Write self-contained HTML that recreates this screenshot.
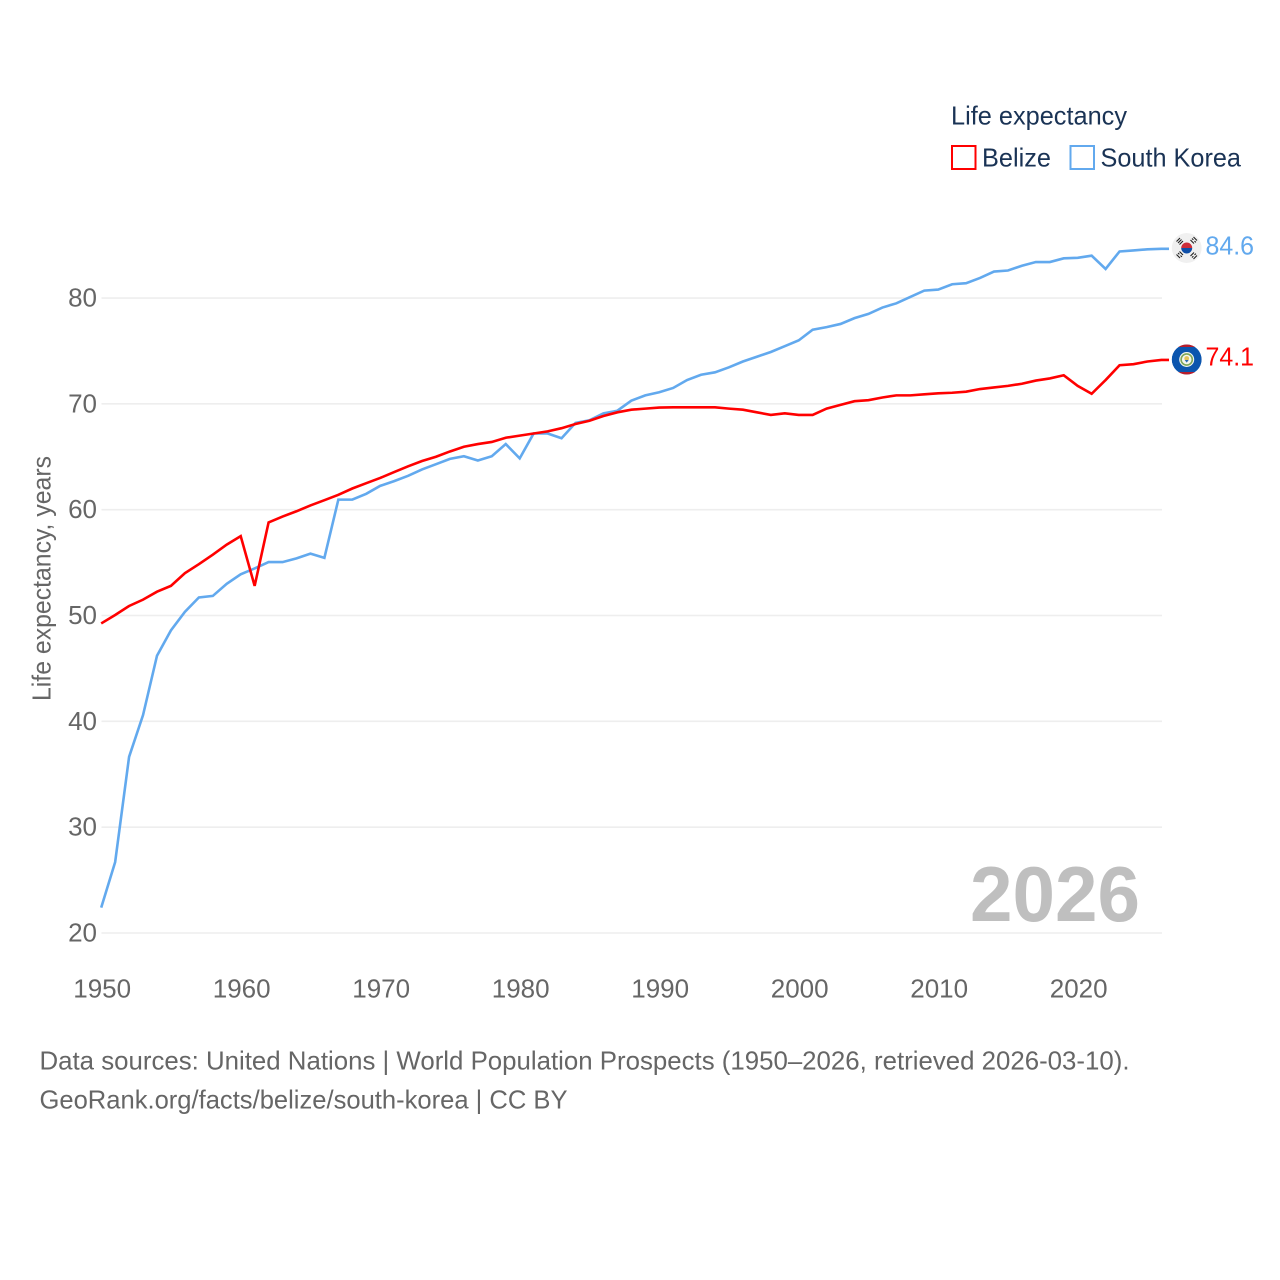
<!DOCTYPE html>
<html lang="en">
<head>
<meta charset="utf-8">
<title>Life expectancy: Belize vs South Korea</title>
<style>
html,body{margin:0;padding:0;background:#fff;width:1280px;height:1280px;overflow:hidden}
svg{display:block}
text{font-family:"Liberation Sans",sans-serif;font-size:26px}
</style>
</head>
<body>
<svg id="chart" xmlns="http://www.w3.org/2000/svg" width="1280" height="1280" viewBox="0 0 1280 1280">
  <defs>
    <clipPath id="flag-clip-kr"><circle cx="1186.7" cy="248" r="15"/></clipPath>
    <clipPath id="flag-clip-bz"><circle cx="1186.7" cy="359.5" r="15"/></clipPath>
  </defs>
  <g id="grid"></g>
  <g id="ytick-labels"></g>
  <g id="xtick-labels"></g>
  <text x="970" y="921" textLength="170" lengthAdjust="spacingAndGlyphs" style="font-size:78px;font-weight:bold" fill="#bfbfbf">2026</text>
  <g id="series"></g>

  <text transform="translate(50.5,701) rotate(-90)" textLength="245" lengthAdjust="spacingAndGlyphs" fill="#666666">Life expectancy, years</text>

  <g>
    <text x="951" y="124.5" textLength="176" lengthAdjust="spacingAndGlyphs" fill="#1a3355">Life expectancy</text>
    <rect x="952" y="146" width="23.5" height="23" fill="#fff" stroke="#ff0000" stroke-width="2"/>
    <text x="982" y="166.5" textLength="69" lengthAdjust="spacingAndGlyphs" fill="#1a3355">Belize</text>
    <rect x="1070.5" y="146" width="23.5" height="23" fill="#fff" stroke="#62a9ee" stroke-width="2"/>
    <text x="1100.5" y="166.5" textLength="140.5" lengthAdjust="spacingAndGlyphs" fill="#1a3355">South Korea</text>
  </g>

  <g clip-path="url(#flag-clip-kr)">
    <circle cx="1186.7" cy="248" r="15" fill="#f0f0f0"/>
    <path d="M1181.2 248a5.5 5.5 0 0 1 11 0z" fill="#cd2e3a"/>
    <path d="M1181.2 248a5.5 5.5 0 0 0 11 0z" fill="#0f4fa8"/>
    <g stroke="#222222" stroke-width="1.1" fill="none">
      <path d="M1176.5 241.5l3.5 -3.5M1178 243l3.5 -3.5M1179.5 244.5l3.5 -3.5"/>
      <path d="M1190.5 240l3.5 3.5M1192 238.5l1.4 1.4M1194.5 241l1.4 1.4M1193.5 237l3.5 3.5"/>
      <path d="M1176.5 254.5l3.5 3.5M1178 253l1.4 1.4M1180.5 255.5l1.4 1.4M1179.5 251.5l3.5 3.5"/>
      <path d="M1190.5 256l3.5 -3.5M1192 257.5l1.4 -1.4M1194.5 255l1.4 -1.4M1193.5 259l3.5 -3.5"/>
    </g>
  </g>
  <g clip-path="url(#flag-clip-bz)">
    <circle cx="1186.7" cy="359.5" r="15" fill="#0b55ae"/>
    <rect x="1170" y="344" width="34" height="3" fill="#b81d2b"/>
    <rect x="1170" y="372" width="34" height="3" fill="#b81d2b"/>
    <circle cx="1186.7" cy="359.5" r="7.5" fill="#f4f6ee"/>
    <circle cx="1186.7" cy="359.5" r="5.6" fill="none" stroke="#7da65a" stroke-width="1.6"/>
    <circle cx="1186.7" cy="358.5" r="2.4" fill="#e3c35a"/>
    <path d="M1184.7 360h4l-2 2.6z" fill="#2a6ab0"/>
  </g>

  <text x="1205.5" y="254.5" textLength="48.5" lengthAdjust="spacingAndGlyphs" fill="#62a9ee">84.6</text>
  <text x="1205.5" y="365.5" textLength="48.5" lengthAdjust="spacingAndGlyphs" fill="#ff0000">74.1</text>

  <text x="39.5" y="1069.5" textLength="1090" lengthAdjust="spacingAndGlyphs" fill="#666666">Data sources: United Nations | World Population Prospects (1950–2026, retrieved 2026-03-10).</text>
  <text x="39.5" y="1108.5" textLength="528" lengthAdjust="spacingAndGlyphs" fill="#666666">GeoRank.org/facts/belize/south-korea | CC BY</text>
</svg>
<script>
const startYear = 1950;
const yTicks = [20, 30, 40, 50, 60, 70, 80];
const xTicks = [1950, 1960, 1970, 1980, 1990, 2000, 2010, 2020];
const belizeValues = [
  49.25, 50.05, 50.9, 51.5, 52.25, 52.8, 54.0, 54.85, 55.75, 56.7,
  57.5, 52.8, 58.8, 59.35, 59.85, 60.4, 60.9, 61.4, 62.0, 62.5,
  63.0, 63.55, 64.1, 64.6, 65.0, 65.5, 65.95, 66.2, 66.4, 66.8,
  67.0, 67.2, 67.4, 67.7, 68.1, 68.4, 68.85, 69.2, 69.45, 69.55,
  69.65, 69.67, 69.67, 69.67, 69.67, 69.55, 69.45, 69.2, 68.95, 69.1,
  68.95, 68.95, 69.55, 69.9, 70.25, 70.35, 70.6, 70.8, 70.8, 70.9,
  71.0, 71.05, 71.15, 71.4, 71.55, 71.7, 71.9, 72.2, 72.4, 72.7,
  71.7, 70.95, 72.25, 73.65, 73.75, 74.0, 74.15
];
const southKoreaValues = [
  22.4, 26.7, 36.65, 40.6, 46.2, 48.6, 50.35, 51.7, 51.85, 53.0,
  53.9, 54.45, 55.05, 55.05, 55.4, 55.85, 55.45, 60.95, 60.95, 61.5,
  62.25, 62.7, 63.2, 63.8, 64.3, 64.8, 65.05, 64.65, 65.05, 66.2,
  64.85, 67.2, 67.2, 66.75, 68.2, 68.45, 69.1, 69.35, 70.3, 70.8,
  71.1, 71.5, 72.25, 72.75, 72.98, 73.45, 74.0, 74.45, 74.9, 75.45,
  76.0, 77.0, 77.25, 77.55, 78.1, 78.5, 79.1, 79.5, 80.1, 80.7,
  80.8, 81.3, 81.4, 81.9, 82.5, 82.6, 83.05, 83.4, 83.4, 83.75,
  83.8, 84.0, 82.75, 84.4, 84.5, 84.6, 84.65
];

const SVGNS = 'http://www.w3.org/2000/svg';
function xScale(year) { return 101.2 + (year - 1950) * 13.95; }
function yScale(v) { return 933 - (v - 20) * 10.583; }
function make(tag, attrs, parent) {
  const el = document.createElementNS(SVGNS, tag);
  for (const k in attrs) el.setAttribute(k, attrs[k]);
  parent.appendChild(el);
  return el;
}

const gridG = document.getElementById('grid');
const yG = document.getElementById('ytick-labels');
const xG = document.getElementById('xtick-labels');
const seriesG = document.getElementById('series');

yTicks.forEach(function (t) {
  const line = make('line', {x1: 101.5, x2: 1162, y1: yScale(t), y2: yScale(t), stroke: '#eeeeee', 'stroke-width': 1.6}, gridG);
  
  
  const label = make('text', {x: 97, y: yScale(t) + 8.5, 'text-anchor': 'end', fill: '#666666'}, yG);
  
  
  label.textContent = t;
});

xTicks.forEach(function (t) {
  const label = make('text', {x: xScale(t) + 1, y: 997.5, 'text-anchor': 'middle', fill: '#666666'}, xG);
  
  
  label.textContent = t;
});

function drawSeries(values, colour, name) {
  const pts = values.map(function (v, i) {
    return xScale(startYear + i).toFixed(2) + ',' + yScale(v).toFixed(2);
  });
  const last = values[values.length - 1];
  const path = make('polyline', {
    points: pts.join(' ') + ' 1169,' + yScale(last).toFixed(2),
    fill: 'none', stroke: colour, 'stroke-width': 2.6, 'stroke-linejoin': 'miter'
  }, seriesG);
  
  
}
drawSeries(southKoreaValues, '#62a9ee', 'line-south-korea');
drawSeries(belizeValues, '#ff0000', 'line-belize');
</script>
</body>
</html>
